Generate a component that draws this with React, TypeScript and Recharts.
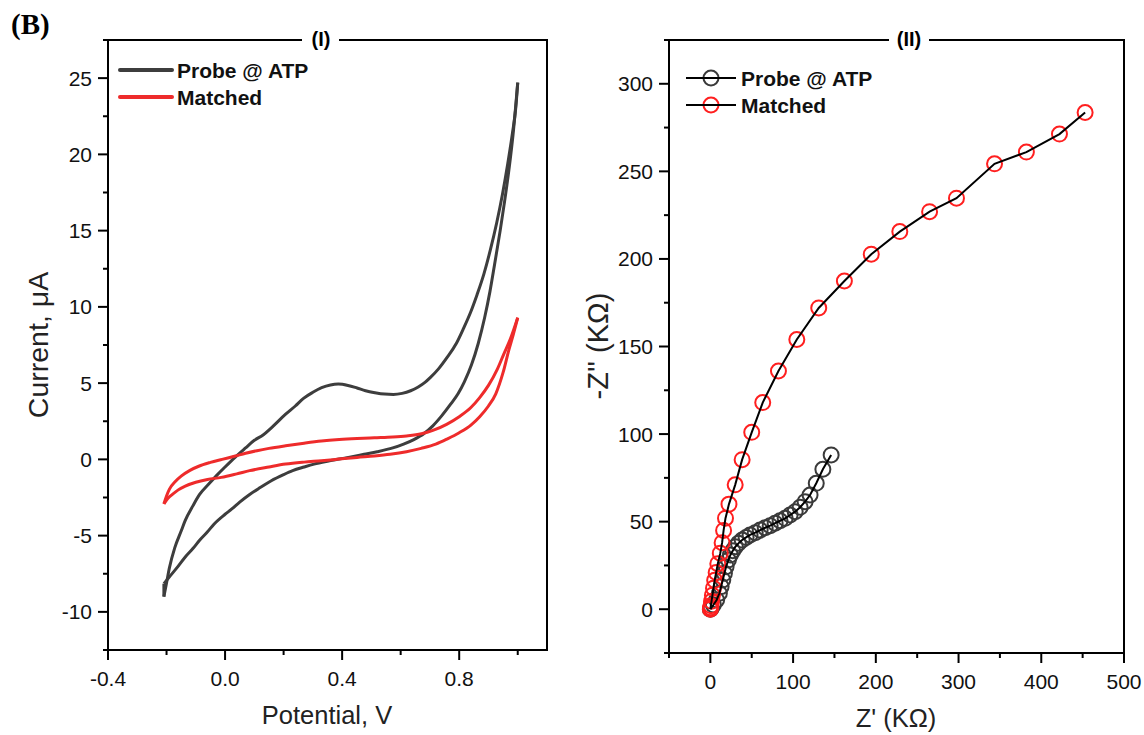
import React from "react"
import { LineChart, Line, XAxis, YAxis, ReferenceArea, ScatterChart, Scatter } from "recharts"

// Panel (I): cyclic voltammograms, [potential V, current uA]
const probeForward: [number, number][] = [
  [-0.209, -9.0], [-0.2, -8.1], [-0.19, -7.1], [-0.172, -5.8], [-0.15, -4.7], [-0.136, -4.0],
  [-0.11, -3.05], [-0.087, -2.3], [-0.055, -1.6], [-0.026, -1.0], [0.0, -0.5], [0.035, 0.15],
  [0.07, 0.75], [0.1, 1.25], [0.13, 1.6], [0.16, 2.1], [0.207, 2.96], [0.24, 3.5], [0.268, 4.0],
  [0.3, 4.4], [0.33, 4.7], [0.36, 4.88], [0.387, 4.94], [0.42, 4.85], [0.451, 4.68], [0.48, 4.5],
  [0.512, 4.37], [0.545, 4.28], [0.575, 4.26], [0.605, 4.33], [0.634, 4.5], [0.66, 4.75],
  [0.683, 5.05], [0.701, 5.36], [0.73, 5.95], [0.758, 6.67], [0.79, 7.6], [0.815, 8.6],
  [0.84, 9.7], [0.861, 10.8], [0.885, 12.2], [0.906, 13.7], [0.928, 15.5], [0.948, 17.4],
  [0.966, 19.4], [0.982, 21.4], [0.993, 23.0], [1.0, 24.7],
]
const probeReverse: [number, number][] = [
  [-0.209, -8.15], [-0.19, -7.7], [-0.16, -7.0], [-0.136, -6.4], [-0.11, -5.85], [-0.087, -5.3],
  [-0.06, -4.75], [-0.038, -4.25], [0.0, -3.6], [0.023, -3.25], [0.05, -2.8], [0.084, -2.3],
  [0.12, -1.85], [0.158, -1.4], [0.2, -1.0], [0.231, -0.74], [0.27, -0.5], [0.304, -0.31],
  [0.35, -0.12], [0.39, 0.02], [0.43, 0.16], [0.475, 0.33], [0.52, 0.5], [0.573, 0.75],
  [0.61, 1.0], [0.645, 1.3], [0.68, 1.7], [0.71, 2.2], [0.74, 2.85], [0.77, 3.6], [0.796, 4.3],
  [0.818, 5.1], [0.842, 6.2], [0.865, 7.6], [0.887, 9.3], [0.905, 11.0], [0.921, 12.8],
  [0.94, 15.0], [0.955, 16.9], [0.97, 19.0], [0.984, 21.3], [1.0, 24.7],
]
const probeVertex: [number, number][] = [[-0.209, -9.0], [-0.209, -8.15]]
const matchedForward: [number, number][] = [
  [-0.209, -2.92], [-0.2, -2.4], [-0.19, -1.95], [-0.17, -1.45], [-0.15, -1.1], [-0.12, -0.72],
  [-0.09, -0.45], [-0.05, -0.2], [-0.01, 0.0], [0.035, 0.22], [0.07, 0.4], [0.109, 0.57],
  [0.15, 0.72], [0.207, 0.89], [0.27, 1.06], [0.329, 1.2], [0.39, 1.3], [0.451, 1.37],
  [0.51, 1.42], [0.573, 1.47], [0.62, 1.54], [0.671, 1.68], [0.71, 1.9], [0.757, 2.3],
  [0.8, 2.8], [0.84, 3.4], [0.87, 4.05], [0.9, 4.85], [0.93, 5.9], [0.952, 6.89], [0.975, 7.9],
  [1.0, 9.29],
]
const matchedReverse: [number, number][] = [
  [-0.209, -2.92], [-0.195, -2.55], [-0.18, -2.3], [-0.16, -2.0], [-0.136, -1.75], [-0.1, -1.5],
  [-0.06, -1.32], [-0.013, -1.18], [0.04, -0.95], [0.084, -0.74], [0.15, -0.5], [0.207, -0.31],
  [0.27, -0.18], [0.329, -0.09], [0.39, 0.02], [0.451, 0.13], [0.51, 0.22], [0.564, 0.33],
  [0.62, 0.5], [0.67, 0.72], [0.72, 1.0], [0.76, 1.35], [0.8, 1.75], [0.84, 2.25], [0.87, 2.8],
  [0.9, 3.5], [0.925, 4.3], [0.95, 5.7], [0.97, 7.2], [0.985, 8.2], [1.0, 9.29],
]

// Panel (II): Nyquist plots, Z' and -Z'' in kOhm
const probeZre = [
  0, 0.8, 3.6, 7.6, 10.9, 13, 15, 17, 19, 21.8, 24.2, 27.1, 30.3, 33.9, 38.4, 43.2, 48, 54.2,
  60.2, 66.3, 72.3, 78.3, 84.3, 90.4, 96.4, 102.5, 108.5, 114.5, 120.5, 128, 136, 146,
]
const probeZim = [
  0, 0.5, 2.4, 5.3, 9.1, 12.9, 16.7, 20.5, 24.3, 28.1, 31, 33.4, 35.7, 37.6, 39.5, 41, 42.4, 43.7,
  45.2, 46.5, 47.7, 49.1, 50.5, 51.9, 53.8, 55.7, 58.2, 61.4, 65.2, 71.9, 79.9, 88.1,
]
const matchedZre = [
  0, 0.2, 0.6, 1.4, 2.5, 3.8, 5.2, 7, 9, 12, 14.2, 16, 18.3, 22.5, 30, 38.4, 50, 63.3, 82.3,
  104.5, 131, 162, 194.5, 229, 265, 297.5, 343.5, 382, 422, 453,
]
const matchedZim = [
  0, 0.8, 2, 4.5, 8, 12, 16.5, 21, 26, 32, 38, 45, 52, 60, 71, 85.4, 101, 118, 136, 154, 172,
  187.4, 202.7, 215.6, 227, 234.7, 254.3, 261, 271.3, 283.6,
]

// axis ticks
const cvXMajor = [-0.4, 0, 0.4, 0.8]
const cvXMinor = [-0.2, 0.2, 0.6, 1.0]
const cvYMajor = [-10, -5, 0, 5, 10, 15, 20, 25]
const cvYMinor = [-12.5, -7.5, -2.5, 2.5, 7.5, 12.5, 17.5, 22.5, 27.5]
const nqXMajor = [0, 100, 200, 300, 400, 500]
const nqXMinor = [-50, 50, 150, 250, 350, 450]
const nqYMajor = [0, 50, 100, 150, 200, 250, 300]
const nqYMinor = [-25, 25, 75, 125, 175, 225, 275, 325]

const FONT = "'Liberation Sans', Arial, sans-serif"
const PROBE_CV = "#3d3d3d"
const MATCHED_RED = "#ee2b2b"

const toXY = (pts: [number, number][]) => pts.map(([x, y]) => ({ x, y }))
const zip = (xs: number[], ys: number[]) => xs.map((x, i) => ({ x, y: ys[i] }))
const isIn = (arr: number[], v: number) => arr.some((m) => Math.abs(m - v) < 1e-9)

const bottomTick = (major: number[], fmt: (v: number) => string) => (props: any) => {
  const { x, y, payload } = props
  const big = isIn(major, payload.value)
  return (
    <g>
      <line x1={x} y1={y} x2={x} y2={y + (big ? 10 : 5)} stroke="#000" strokeWidth={2} />
      {big && (
        <text x={x} y={y + 36} textAnchor="middle" fontSize={21} fontFamily={FONT} fill="#111">
          {fmt(payload.value)}
        </text>
      )}
    </g>
  )
}

const leftTick = (major: number[]) => (props: any) => {
  const { x, y, payload } = props
  const big = isIn(major, payload.value)
  return (
    <g>
      <line x1={x} y1={y} x2={x - (big ? 10 : 5)} y2={y} stroke="#000" strokeWidth={2} />
      {big && (
        <text x={x - 16} y={y} dy="0.36em" textAnchor="end" fontSize={21} fontFamily={FONT} fill="#111">
          {payload.value}
        </text>
      )}
    </g>
  )
}

const ring = (color: string) => (p: any) => (
  <circle cx={p.cx} cy={p.cy} r={7.5} fill="none" stroke={color} strokeWidth={2} />
)
const noShape = () => <g />

const CVPanel = () => (
  <LineChart width={560} height={735} margin={{ top: 40, right: 13, bottom: 0, left: 0 }}>
    <XAxis
      type="number"
      dataKey="x"
      domain={[-0.4, 1.1]}
      allowDataOverflow
      ticks={[...cvXMajor, ...cvXMinor]}
      interval={0}
      height={85}
      axisLine={false}
      tickLine={false}
      tickSize={0}
      tickMargin={0}
      tick={bottomTick(cvXMajor, (v) => v.toFixed(1))}
    />
    <YAxis
      type="number"
      dataKey="y"
      domain={[-12.5, 27.5]}
      allowDataOverflow
      ticks={[...cvYMajor, ...cvYMinor]}
      interval={0}
      width={108}
      axisLine={false}
      tickLine={false}
      tickSize={0}
      tickMargin={0}
      tick={leftTick(cvYMajor)}
    />
    <ReferenceArea x1={-0.4} x2={1.1} y1={-12.5} y2={27.5} fill="none" fillOpacity={0} stroke="#000" strokeWidth={2} />
    <Line data={toXY(probeForward)} dataKey="y" type="monotone" stroke={PROBE_CV} strokeWidth={3} dot={false} activeDot={false} isAnimationActive={false} />
    <Line data={toXY(probeReverse)} dataKey="y" type="monotone" stroke={PROBE_CV} strokeWidth={3} dot={false} activeDot={false} isAnimationActive={false} />
    <Line data={toXY(probeVertex)} dataKey="y" type="linear" stroke={PROBE_CV} strokeWidth={3} dot={false} activeDot={false} isAnimationActive={false} />
    <Line data={toXY(matchedForward)} dataKey="y" type="monotone" stroke={MATCHED_RED} strokeWidth={3} dot={false} activeDot={false} isAnimationActive={false} />
    <Line data={toXY(matchedReverse)} dataKey="y" type="monotone" stroke={MATCHED_RED} strokeWidth={3} dot={false} activeDot={false} isAnimationActive={false} />
  </LineChart>
)

const NyquistPanel = () => (
  <ScatterChart width={584} height={735} margin={{ top: 40, right: 20, bottom: 0, left: 0 }}>
    <XAxis
      type="number"
      dataKey="x"
      domain={[-50, 500]}
      allowDataOverflow
      ticks={[...nqXMajor, ...nqXMinor]}
      interval={0}
      height={82}
      axisLine={false}
      tickLine={false}
      tickSize={0}
      tickMargin={0}
      tick={bottomTick(nqXMajor, (v) => String(v))}
    />
    <YAxis
      type="number"
      dataKey="y"
      domain={[-25, 325]}
      allowDataOverflow
      ticks={[...nqYMajor, ...nqYMinor]}
      interval={0}
      width={109}
      axisLine={false}
      tickLine={false}
      tickSize={0}
      tickMargin={0}
      tick={leftTick(nqYMajor)}
    />
    <ReferenceArea x1={-50} x2={500} y1={-25} y2={325} fill="none" fillOpacity={0} stroke="#000" strokeWidth={2} />
    <Scatter data={zip(probeZre, probeZim)} shape={ring("#3a3a3a")} isAnimationActive={false} />
    <Scatter data={zip(matchedZre, matchedZim)} shape={ring("#ff1f1f")} isAnimationActive={false} />
    <Scatter data={zip(probeZre, probeZim)} shape={noShape} line={{ stroke: "#000", strokeWidth: 2 }} isAnimationActive={false} />
    <Scatter data={zip(matchedZre, matchedZim)} shape={noShape} line={{ stroke: "#000", strokeWidth: 2 }} isAnimationActive={false} />
  </ScatterChart>
)

export default function App() {
  return (
    <div style={{ position: "absolute", left: 0, top: 0, width: 1144, height: 735, background: "#fff", overflow: "hidden" }}>
      <div style={{ position: "absolute", left: 0, top: 0 }}>
        <CVPanel />
      </div>
      <div style={{ position: "absolute", left: 560, top: 0 }}>
        <NyquistPanel />
      </div>
      <svg width={1144} height={735} style={{ position: "absolute", left: 0, top: 0, pointerEvents: "none" }}>
        <text x={11} y={34} fontSize={29} fontWeight="bold" fontFamily="'Liberation Serif', 'Times New Roman', serif" fill="#000">
          (B)
        </text>

        {/* panel titles sitting on the top frame */}
        <rect x={302} y={36} width={37} height={8} fill="#fff" />
        <text x={321} y={46} textAnchor="middle" fontSize={20} fontWeight="bold" fontFamily={FONT} fill="#000">(I)</text>
        <rect x={889} y={36} width={40} height={8} fill="#fff" />
        <text x={909} y={46} textAnchor="middle" fontSize={20} fontWeight="bold" fontFamily={FONT} fill="#000">(II)</text>

        {/* legend (I) */}
        <line x1={120} y1={70} x2={172} y2={70} stroke={PROBE_CV} strokeWidth={4} strokeLinecap="round" />
        <text x={177} y={77.5} fontSize={21} fontWeight="bold" fontFamily={FONT} fill="#111">Probe @ ATP</text>
        <line x1={120} y1={97} x2={172} y2={97} stroke={MATCHED_RED} strokeWidth={4} strokeLinecap="round" />
        <text x={177} y={104.5} fontSize={21} fontWeight="bold" fontFamily={FONT} fill="#111">Matched</text>

        {/* legend (II) */}
        <circle cx={711} cy={78} r={7.5} fill="none" stroke="#3a3a3a" strokeWidth={2} />
        <line x1={686} y1={78} x2={736} y2={78} stroke="#000" strokeWidth={2} />
        <text x={741} y={85.5} fontSize={21} fontWeight="bold" fontFamily={FONT} fill="#111">Probe @ ATP</text>
        <circle cx={711} cy={105} r={7.5} fill="none" stroke="#ff1f1f" strokeWidth={2} />
        <line x1={686} y1={105} x2={736} y2={105} stroke="#000" strokeWidth={2} />
        <text x={741} y={112.5} fontSize={21} fontWeight="bold" fontFamily={FONT} fill="#111">Matched</text>

        {/* axis titles */}
        <text x={327} y={724} textAnchor="middle" fontSize={25.5} fontFamily={FONT} fill="#222">Potential, V</text>
        <text x={38} y={345} textAnchor="middle" dy="0.35em" transform="rotate(-90 38 345)" fontSize={28.5} fontFamily={FONT} fill="#222">
          Current, μA
        </text>
        <text x={896} y={727} textAnchor="middle" fontSize={25.5} fontFamily={FONT} fill="#222">Z' (KΩ)</text>
        <text x={598} y={346} textAnchor="middle" dy="0.35em" transform="rotate(-90 598 346)" fontSize={29} fontFamily={FONT} fill="#222">
          -Z'' (KΩ)
        </text>
      </svg>
    </div>
  )
}
